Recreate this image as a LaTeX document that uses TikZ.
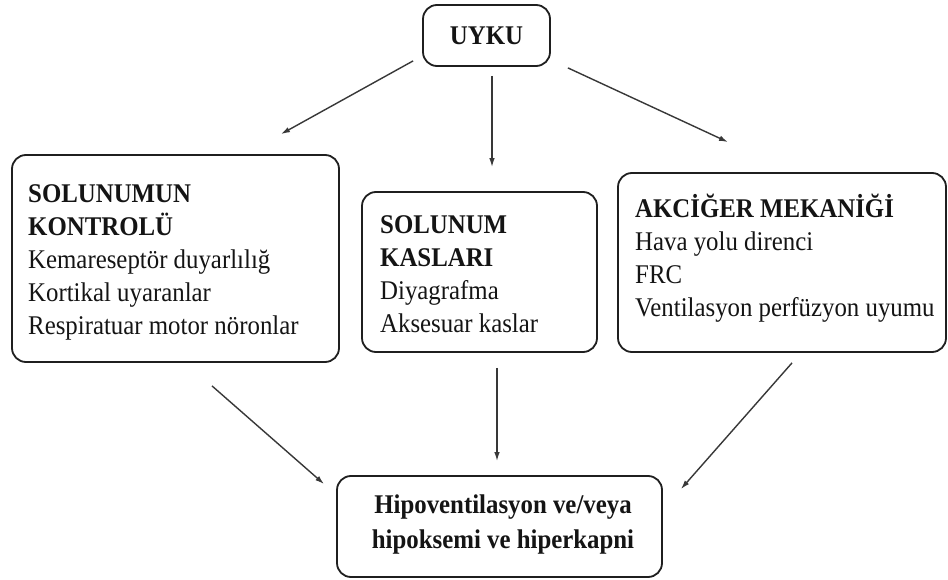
\documentclass[tikz,border=0pt]{standalone}
\usepackage{fontspec}
\setmainfont{Liberation Serif}[FakeStretch=0.92]
\usetikzlibrary{arrows.meta}
\begin{document}
\begin{tikzpicture}[x=1pt,y=-1pt,
  box/.style={draw=black!88, line width=1.8pt, rounded corners=14pt, inner sep=0pt},
  txt/.style={inner sep=0pt, font=\fontsize{27}{33}\selectfont, align=left, anchor=north west, text=black!92},
  arr/.style={draw=black!78, line width=1.4pt, -{Latex[length=9pt,width=5.5pt]}}]
\useasboundingbox[fill=white] (0,0) rectangle (948,580);
% boxes
\node[box, minimum width=127pt, minimum height=61pt, font=\bfseries\fontsize{27}{30}\selectfont, text=black!92] (U) at (486.5,35.5) {UYKU};
\node[box, minimum width=327pt, minimum height=207pt] (L) at (175.5,258.5) {};
\node[box, minimum width=235pt, minimum height=160pt] (M) at (479.5,272) {};
\node[box, minimum width=328pt, minimum height=179pt] (R) at (782,262.5) {};
\node[box, minimum width=325pt, minimum height=101pt] (B) at (499.5,526.5) {};
% texts
\node[txt] (Lt) at (28,177) {\rule{0pt}{25pt}\textbf{SOLUNUMUN}\\\textbf{KONTROLÜ}\\Kemareseptör duyarlılığ\\Kortikal uyaranlar\\Respiratuar motor nöronlar};
\node[txt] (Mt) at (380,208) {\rule{0pt}{25pt}\textbf{SOLUNUM}\\\textbf{KASLARI}\\Diyagrafma\\Aksesuar kaslar};
\node[txt] (Rt) at (635,192) {\rule{0pt}{25pt}\textbf{AKCİĞER MEKANİĞİ}\\Hava yolu direnci\\FRC\\Ventilasyon perfüzyon uyumu};
\node[txt, align=center, anchor=north, font=\bfseries\fontsize{27}{35}\selectfont] (Bt) at (503,488) {\rule{0pt}{25pt}Hipoventilasyon ve/veya\\hipoksemi ve hiperkapni};
% arrows
\draw[arr] ([xshift=-9pt,yshift=6pt]U.south west) -- ([xshift=105.5pt,yshift=20pt]L.north);
\draw[arr] ([xshift=5.5pt,yshift=-9pt]U.south) -- ([xshift=12.5pt,yshift=24pt]M.north);
\draw[arr] ([xshift=17pt,yshift=-1pt]U.south east) -- ([xshift=-54pt,yshift=30pt]R.north);
\draw[arr] ([xshift=36.5pt,yshift=-23pt]L.south) -- ([xshift=-12pt,yshift=-9pt]B.north west);
\draw[arr] ([xshift=17.5pt,yshift=-15pt]M.south) -- ([xshift=-2.5pt,yshift=14pt]B.north);
\draw[arr] ([xshift=10pt,yshift=-10pt]R.south) -- ([xshift=18pt,yshift=-14pt]B.north east);
\end{tikzpicture}
\end{document}
